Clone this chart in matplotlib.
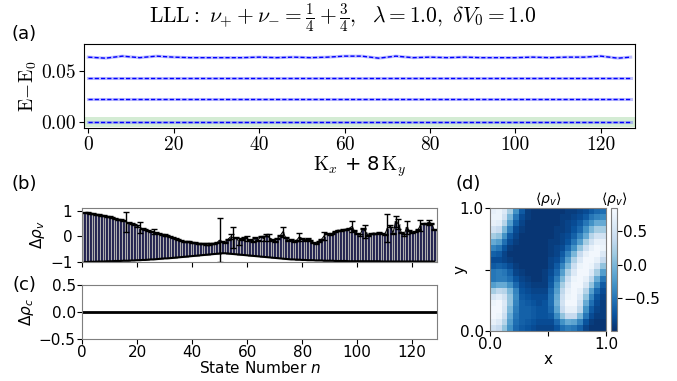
import matplotlib
matplotlib.use("Agg")
import matplotlib.pyplot as plt
import numpy as np

plt.rcParams["mathtext.fontset"] = "cm"

# ---- panel (a): low-lying spectrum vs momentum sector ----
k_sector = [0, 4, 8, 12, 16, 20, 24, 28, 32, 36, 40, 44, 48, 52, 56, 60, 64,
            68, 72, 76, 80, 84, 88, 92, 96, 100, 104, 108, 112, 116, 120, 124, 127]
e_level0 = [0.0, 0.0, 0.0, 0.0, 0.0, 0.0, 0.0, 0.0, 0.0, 0.0, 0.0, 0.0, 0.0,
            0.0, 0.0, 0.0, 0.0, 0.0, 0.0, 0.0, 0.0, 0.0, 0.0, 0.0, 0.0, 0.0,
            0.0, 0.0, 0.0, 0.0, 0.0, 0.0, 0.0]
e_level1 = [0.0228, 0.0228, 0.0228, 0.0228, 0.0228, 0.0228, 0.0228, 0.0228,
            0.0228, 0.0228, 0.0228, 0.0228, 0.0228, 0.0228, 0.0228, 0.0228,
            0.0228, 0.0228, 0.0228, 0.0228, 0.0228, 0.0228, 0.0228, 0.0228,
            0.0228, 0.0228, 0.0228, 0.0228, 0.0228, 0.0228, 0.0228, 0.0228, 0.0228]
e_level2 = [0.0435, 0.0435, 0.0435, 0.0435, 0.0435, 0.0435, 0.0435, 0.0435,
            0.0435, 0.0435, 0.0435, 0.0435, 0.0435, 0.0435, 0.0435, 0.0435,
            0.0435, 0.0435, 0.0435, 0.0435, 0.0435, 0.0435, 0.0435, 0.0435,
            0.0435, 0.0435, 0.0435, 0.0435, 0.0435, 0.0435, 0.0435, 0.0435, 0.0435]
e_level3 = [0.064, 0.063, 0.065, 0.0635, 0.065, 0.064, 0.0635, 0.0635, 0.0635,
            0.0635, 0.064, 0.0635, 0.064, 0.0635, 0.064, 0.065, 0.065, 0.063,
            0.065, 0.0635, 0.064, 0.0635, 0.064, 0.0635, 0.0635, 0.0635, 0.064,
            0.0635, 0.064, 0.064, 0.065, 0.063, 0.064]

# ---- panel (b): valley polarisation per state ----
state_n = np.arange(1, 129)
rho_top = [0.92, 0.91, 0.90, 0.88, 0.86, 0.84, 0.82, 0.80, 0.78, 0.76,
           0.73, 0.70, 0.67, 0.64, 0.60, 0.56, 0.52, 0.48, 0.44, 0.40,
           0.34, 0.30, 0.26, 0.23, 0.20, 0.17, 0.14, 0.11, 0.08, 0.05,
           0.02, -0.02, -0.06, -0.10, -0.14, -0.17, -0.20, -0.21, -0.22, -0.23,
           -0.25, -0.27, -0.28, -0.29, -0.30, -0.30, -0.29, -0.27, -0.25, -0.15,
           -0.22, -0.26, -0.12, -0.02, -0.05, -0.06, -0.20, -0.12, -0.03, -0.10,
           -0.14, -0.20, -0.05, -0.15, 0.00, -0.10, 0.05, -0.05, -0.12, -0.20,
           -0.08, 0.02, 0.18, -0.05, -0.18, -0.12, -0.20, -0.15, -0.02, -0.10,
           -0.15, -0.10, -0.18, -0.25, -0.28, -0.20, -0.12, 0.02, 0.10, 0.08,
           0.12, 0.20, 0.24, 0.22, 0.25, 0.28, 0.30, 0.38, 0.22, 0.12,
           0.05, 0.30, 0.18, 0.04, 0.10, 0.12, 0.10, 0.15, 0.12, 0.08,
           0.32, 0.40, 0.12, 0.58, 0.48, 0.15, 0.05, 0.35, 0.22, 0.15,
           0.18, 0.25, 0.42, 0.50, 0.48, 0.55, 0.50, 0.25]
rho_bottom = [-1.00, -1.00, -0.99, -0.99, -0.99, -0.98, -0.98, -0.98, -0.97, -0.97,
              -0.97, -0.96, -0.96, -0.96, -0.95, -0.95, -0.95, -0.94, -0.94, -0.93,
              -0.93, -0.92, -0.92, -0.91, -0.90, -0.90, -0.89, -0.88, -0.87, -0.86,
              -0.86, -0.85, -0.84, -0.83, -0.82, -0.81, -0.80, -0.79, -0.78, -0.77,
              -0.76, -0.75, -0.74, -0.73, -0.72, -0.71, -0.70, -0.69, -0.68, -0.67,
              -0.66, -0.66, -0.67, -0.68, -0.69, -0.70, -0.71, -0.72, -0.73, -0.74,
              -0.75, -0.76, -0.77, -0.78, -0.79, -0.80, -0.81, -0.82, -0.83, -0.84,
              -0.85, -0.86, -0.87, -0.88, -0.89, -0.90, -0.90, -0.91, -0.91, -0.92,
              -0.92, -0.93, -0.93, -0.93, -0.94, -0.94, -0.94, -0.95, -0.95, -0.95,
              -0.95, -0.96, -0.96, -0.96, -0.96, -0.96, -0.97, -0.97, -0.97, -0.97,
              -0.97, -0.97, -0.97, -0.97, -0.97, -0.97, -0.97, -0.97, -0.98, -0.98,
              -0.98, -0.98, -0.98, -0.98, -0.98, -0.98, -0.98, -0.98, -0.98, -0.98,
              -0.98, -0.98, -0.98, -0.98, -0.98, -0.98, -0.98, -0.98]
rho_err = [0.02, 0.02, 0.02, 0.02, 0.02, 0.02, 0.02, 0.02, 0.02, 0.02,
           0.02, 0.02, 0.02, 0.02, 0.02, 0.40, 0.02, 0.02, 0.02, 0.02,
           0.20, 0.02, 0.02, 0.02, 0.02, 0.10, 0.02, 0.02, 0.02, 0.02,
           0.02, 0.02, 0.02, 0.02, 0.02, 0.02, 0.02, 0.02, 0.02, 0.02,
           0.02, 0.02, 0.02, 0.02, 0.02, 0.02, 0.02, 0.02, 0.02, 0.85,
           0.02, 0.02, 0.02, 0.10, 0.40, 0.02, 0.15, 0.02, 0.02, 0.10,
           0.02, 0.02, 0.02, 0.02, 0.02, 0.10, 0.02, 0.15, 0.02, 0.02,
           0.02, 0.02, 0.20, 0.02, 0.02, 0.02, 0.02, 0.02, 0.15, 0.02,
           0.02, 0.02, 0.02, 0.02, 0.02, 0.02, 0.02, 0.15, 0.02, 0.02,
           0.02, 0.02, 0.02, 0.02, 0.02, 0.02, 0.02, 0.20, 0.02, 0.02,
           0.02, 0.02, 0.25, 0.02, 0.02, 0.02, 0.02, 0.02, 0.02, 0.02,
           0.55, 0.02, 0.02, 0.20, 0.20, 0.02, 0.02, 0.25, 0.02, 0.02,
           0.02, 0.02, 0.20, 0.02, 0.02, 0.10, 0.02, 0.02]

# ---- panel (c): charge polarisation (identically zero) ----
rho_c = [0.0, 0.0]
rho_c_n = [0, 129]

# ---- panel (d): real-space valley density, rows top -> bottom ----
rho_map = [
    [0.70, 0.75, 0.60, 0.20, -0.30, -0.70, -0.90, -0.95, -0.95, -0.95, -0.95, -0.95, -0.95, -0.90, -0.90, -0.85, -0.80, -0.70, -0.60, -0.55],
    [0.75, 0.75, 0.50, 0.00, -0.50, -0.80, -0.90, -0.95, -0.95, -0.95, -0.95, -0.95, -0.90, -0.90, -0.85, -0.80, -0.70, -0.50, -0.40, -0.35],
    [0.70, 0.65, 0.30, -0.20, -0.65, -0.85, -0.95, -0.95, -0.95, -0.95, -0.95, -0.95, -0.90, -0.85, -0.80, -0.70, -0.50, -0.30, -0.10, -0.10],
    [0.50, 0.40, 0.00, -0.45, -0.80, -0.90, -0.95, -0.95, -0.95, -0.95, -0.95, -0.90, -0.90, -0.85, -0.75, -0.60, -0.30, 0.00, 0.20, 0.20],
    [0.20, 0.10, -0.30, -0.70, -0.85, -0.95, -0.95, -0.95, -0.95, -0.95, -0.95, -0.90, -0.85, -0.80, -0.65, -0.40, -0.10, 0.30, 0.50, 0.50],
    [-0.10, -0.20, -0.55, -0.80, -0.90, -0.95, -0.95, -0.95, -0.95, -0.95, -0.90, -0.90, -0.85, -0.75, -0.50, -0.20, 0.20, 0.50, 0.70, 0.70],
    [-0.40, -0.50, -0.75, -0.90, -0.95, -0.95, -0.95, -0.95, -0.95, -0.95, -0.90, -0.85, -0.80, -0.60, -0.30, 0.10, 0.45, 0.70, 0.80, 0.75],
    [-0.65, -0.70, -0.85, -0.95, -0.95, -0.95, -0.95, -0.95, -0.95, -0.95, -0.90, -0.85, -0.70, -0.40, 0.00, 0.40, 0.70, 0.80, 0.80, 0.60],
    [-0.80, -0.80, -0.85, -0.90, -0.95, -0.95, -0.95, -0.95, -0.95, -0.95, -0.85, -0.80, -0.60, -0.20, 0.25, 0.60, 0.80, 0.80, 0.70, 0.40],
    [-0.70, -0.65, -0.70, -0.80, -0.90, -0.95, -0.95, -0.95, -0.95, -0.95, -0.85, -0.70, -0.40, 0.00, 0.45, 0.75, 0.80, 0.75, 0.50, 0.10],
    [-0.50, -0.45, -0.50, -0.65, -0.85, -0.90, -0.95, -0.95, -0.95, -0.90, -0.80, -0.60, -0.20, 0.25, 0.60, 0.80, 0.80, 0.60, 0.20, -0.20],
    [-0.50, -0.45, -0.45, -0.55, -0.75, -0.85, -0.90, -0.95, -0.95, -0.90, -0.75, -0.45, 0.00, 0.45, 0.75, 0.80, 0.70, 0.35, -0.10, -0.50],
    [-0.20, -0.10, -0.10, -0.30, -0.60, -0.80, -0.85, -0.90, -0.90, -0.90, -0.70, -0.30, 0.20, 0.60, 0.80, 0.80, 0.55, 0.10, -0.35, -0.70],
    [0.20, 0.35, 0.30, 0.00, -0.40, -0.75, -0.80, -0.85, -0.85, -0.85, -0.60, -0.20, 0.35, 0.70, 0.80, 0.70, 0.30, -0.20, -0.60, -0.80],
    [0.55, 0.65, 0.50, 0.10, -0.35, -0.70, -0.75, -0.80, -0.80, -0.80, -0.55, -0.10, 0.45, 0.75, 0.80, 0.60, 0.10, -0.40, -0.75, -0.85],
    [0.75, 0.80, 0.60, 0.10, -0.40, -0.65, -0.70, -0.75, -0.80, -0.75, -0.55, -0.05, 0.50, 0.80, 0.80, 0.50, -0.10, -0.55, -0.80, -0.90],
    [0.80, 0.80, 0.55, 0.00, -0.45, -0.65, -0.65, -0.70, -0.75, -0.75, -0.60, -0.15, 0.40, 0.70, 0.70, 0.35, -0.30, -0.70, -0.85, -0.90],
    [0.80, 0.75, 0.45, -0.10, -0.50, -0.65, -0.65, -0.70, -0.75, -0.75, -0.70, -0.35, 0.10, 0.40, 0.40, 0.00, -0.50, -0.80, -0.90, -0.90],
    [0.70, 0.60, 0.30, -0.20, -0.55, -0.65, -0.70, -0.75, -0.80, -0.80, -0.80, -0.60, -0.30, -0.10, -0.15, -0.40, -0.75, -0.90, -0.95, -0.95],
    [0.50, 0.40, 0.10, -0.30, -0.60, -0.70, -0.75, -0.80, -0.85, -0.85, -0.85, -0.75, -0.55, -0.45, -0.50, -0.65, -0.85, -0.95, -0.95, -0.95],
]

SANS = 11
W, H = 677, 381


def box(left, top, right, bottom):
    # pixel box (from top-left) -> figure fraction rect
    return [left / W, 1 - bottom / H, (right - left) / W, (bottom - top) / H]


fig = plt.figure(figsize=(W / 100, H / 100), dpi=100)

#  Panel (a) ##########################
ax_a = fig.add_axes(box(84, 44, 635, 128))
ax_a.axhspan(-0.005, 0.005, color="tab:green", alpha=0.2, lw=0)
for lvl in (e_level0, e_level1, e_level2, e_level3):
    ax_a.plot(k_sector, lvl, color="#7f7fff", lw=2.2, alpha=0.5)
    ax_a.plot(k_sector, lvl, color="blue", lw=1.0, ls=(0, (3, 1.5)))
ax_a.set_xlim(-1, 128)
ax_a.set_ylim(-0.006, 0.077)
ax_a.set_xticks(range(0, 121, 20))
ax_a.set_yticks([0.0, 0.05])
ax_a.set_yticklabels(["0.00", "0.05"])
for lab in ax_a.get_xticklabels() + ax_a.get_yticklabels():
    lab.set_fontfamily("cmr10")
    lab.set_fontsize(14)
ax_a.tick_params(pad=2)
ax_a.set_xlabel(r"$\mathrm{K}_x$ + 8$\,\mathrm{K}_y$", fontsize=14, labelpad=1)
ax_a.set_ylabel(r"$\mathrm{E}\!-\!\mathrm{E}_0$", fontsize=14, labelpad=2)
fig.text(343 / W, 1 - 18 / H,
         r"$\mathrm{LLL}:\ \nu_{+}+\nu_{-}=\frac{1}{4}+\frac{3}{4},\ \ \lambda=1.0,\ \delta V_0=1.0$",
         fontsize=15.5, ha="center", va="center")

#  Panel (b) ##########################
gray = "#7f7f7f"
ax_b = fig.add_axes(box(82, 208, 437, 262))
heights = np.array(rho_top) - np.array(rho_bottom)
ax_b.bar(state_n, heights, width=1.0, bottom=rho_bottom, color="#1c1c4c",
         edgecolor="#b0b0b0", linewidth=0.8)
ax_b.errorbar(state_n, rho_top, yerr=rho_err, fmt="none", ecolor="black",
              elinewidth=1.0, capsize=2.2, capthick=1.0)
ax_b.plot(state_n, rho_top, color="black", lw=0.7)
ax_b.plot(state_n, rho_bottom, color="black", lw=1.5)
ax_b.set_xlim(0, 129)
ax_b.set_ylim(-1, 1.1)
ax_b.set_yticks([-1, 0, 1])
ax_b.set_xticks(range(0, 121, 20))
ax_b.set_xticklabels([])
ax_b.tick_params(labelsize=SANS)
ax_b.set_ylabel(r"$\Delta\rho_v$", fontsize=SANS, labelpad=2,
                math_fontfamily="dejavusans")

#  Panel (c) ##########################
ax_c = fig.add_axes(box(82, 285, 437, 339))
ax_c.plot(rho_c_n, rho_c, color="black", lw=2)
ax_c.set_xlim(0, 129)
ax_c.set_ylim(-0.5, 0.5)
ax_c.set_yticks([-0.5, 0.0, 0.5])
ax_c.set_xticks(range(0, 121, 20))
ax_c.tick_params(labelsize=SANS, pad=1)
ax_c.set_ylabel(r"$\Delta\rho_c$", fontsize=SANS, labelpad=2,
                math_fontfamily="dejavusans")
ax_c.set_xlabel(r"State Number $n$", fontsize=SANS, labelpad=0,
                math_fontfamily="dejavusans")

for ax in (ax_b, ax_c):
    for sp in ax.spines.values():
        sp.set_color(gray)

#  Panel (d) ##########################
ax_d = fig.add_axes(box(490, 208, 606, 331))
im = ax_d.imshow(rho_map, cmap="Blues_r", vmin=-1.0, vmax=0.85,
                 extent=[0, 1, 0, 1], aspect="auto", interpolation="nearest")
ax_d.set_xticks([0, 0.5, 1])
ax_d.set_xticklabels(["0.0", "", "1.0"])
ax_d.set_yticks([0, 0.5, 1])
ax_d.set_yticklabels(["0.0", "", "1.0"])
ax_d.tick_params(labelsize=SANS, pad=1)
ax_d.set_xlabel("x", fontsize=SANS, labelpad=0)
ax_d.set_ylabel("y", fontsize=SANS, labelpad=-6)
ax_d.set_title(r"$\langle\rho_v\rangle$", fontsize=SANS - 1, pad=2,
               math_fontfamily="dejavusans")
for sp in ax_d.spines.values():
    sp.set_color(gray)

cax = fig.add_axes(box(611, 208, 617, 331))
cb = fig.colorbar(im, cax=cax, ticks=[-0.5, 0.0, 0.5])
cb.ax.tick_params(labelsize=SANS, pad=1)
cb.outline.set_edgecolor(gray)
cax.set_title(r"$\langle\rho_v\rangle$", fontsize=SANS - 1, pad=2,
              math_fontfamily="dejavusans")

#  Panel letters ######################
for label, (px, py) in {"(a)": (24, 34), "(b)": (24, 184),
                        "(c)": (24, 285), "(d)": (468, 184)}.items():
    fig.text(px / W, 1 - py / H, label, fontsize=13, ha="center", va="center")

fig.savefig("out.png", dpi=100)
